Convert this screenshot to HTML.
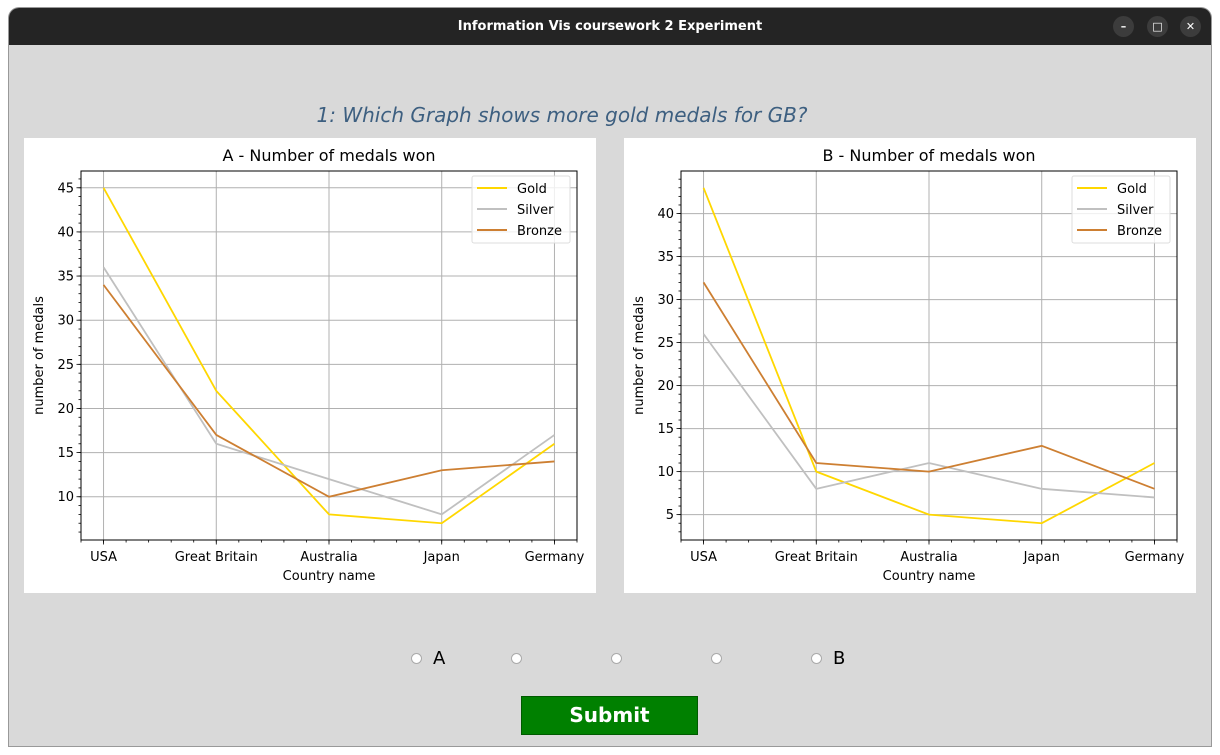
<!DOCTYPE html>
<html><head><meta charset="utf-8">
<style>
html,body{margin:0;padding:0;width:1220px;height:755px;overflow:hidden;background:#ffffff;font-family:"DejaVu Sans","Liberation Sans",sans-serif;}
#win{position:absolute;left:9px;top:8px;width:1202px;height:738px;background:#d9d9d9;border-radius:10px 10px 0 0;overflow:hidden;box-shadow:0 0 0 1px #999;}
#titlebar{position:absolute;left:0;top:0;width:1202px;height:37px;background:#242424;color:#fff;font-weight:bold;font-size:13px;text-align:center;line-height:37px;}
.wbtn{position:absolute;top:8px;width:21px;height:21px;border-radius:50%;background:#3c3c3c;color:#fff;font-size:11px;line-height:21px;text-align:center;}
#question{position:absolute;left:0;width:1106px;top:95px;text-align:center;color:#3d5f80;font-style:italic;font-size:20px;}
.panel{position:absolute;top:130px;width:572px;height:455px;background:#fff;}
.radio{position:absolute;top:645px;width:9px;height:9px;border-radius:50%;background:#fff;border:1px solid #aaa;}
.rlabel{position:absolute;top:640px;font-size:18px;color:#000;}
#submit{position:absolute;left:512px;top:688px;width:175px;height:37px;background:#008000;border:1px solid #005a00;color:#fff;font-weight:bold;font-size:20px;text-align:center;line-height:37px;}
</style></head>
<body>
<div id="win">
  <div id="titlebar">Information Vis coursework 2 Experiment
    <div class="wbtn" style="left:1104px">–</div>
    <div class="wbtn" style="left:1138px">□</div>
    <div class="wbtn" style="left:1171px">✕</div>
  </div>
  <div id="question">1: Which Graph shows more gold medals for GB?</div>
  <div class="panel" style="left:15px"><svg id="chartA" width="572" height="455"></svg></div>
  <div class="panel" style="left:615px"><svg id="chartB" width="572" height="455"></svg></div>
  <div class="radio" style="left:402px"></div>
  <div class="rlabel" style="left:424px">A</div>
  <div class="radio" style="left:502px"></div>
  <div class="radio" style="left:602px"></div>
  <div class="radio" style="left:702px"></div>
  <div class="radio" style="left:802px"></div>
  <div class="rlabel" style="left:824px">B</div>
  <div id="submit">Submit</div>
</div>
<script>
const categories = ["USA","Great Britain","Australia","Japan","Germany"];
const goldA = [45,22,8,7,16];
const silverA = [36,16,12,8,17];
const bronzeA = [34,17,10,13,14];
const goldB = [43,10,5,4,11];
const silverB = [26,8,11,8,7];
const bronzeB = [32,11,10,13,8];
const ticksA = [10,15,20,25,30,35,40,45];
const ticksB = [5,10,15,20,25,30,35,40];
const seriesNames = ["Gold","Silver","Bronze"];
const colors = ["#ffd700","#c0c0c0","#cd7f32"];
const NS="http://www.w3.org/2000/svg";
function mk(svg,tag,attrs,text){const e=document.createElementNS(NS,tag);for(const k in attrs)e.setAttribute(k,attrs[k]);if(text!==undefined)e.textContent=text;svg.appendChild(e);return e;}
function draw(id,title,series,ticks,letter){
  const svg=document.getElementById(id);
  const L=57,R=553,T=33,B=402;
  let all=[].concat(...series);let mn=Math.min(...all),mx=Math.max(...all);let m=(mx-mn)*0.05;
  const y0=mn-m,y1=mx+m;
  const x=i=>L+(i+0.2)/4.4*(R-L);
  const y=v=>B-(v-y0)/(y1-y0)*(B-T);
  const t=mk(svg,'text',{x:(L+R)/2,y:23,'text-anchor':'middle','font-size':'16','fill':'#000'},title);
  
  ticks.forEach(v=>{const g=mk(svg,'line',{x1:L,x2:R,y1:y(v),y2:y(v),stroke:'#b0b0b0','stroke-width':1});});
  categories.forEach((c,i)=>{const g=mk(svg,'line',{x1:x(i),x2:x(i),y1:T,y2:B,stroke:'#b0b0b0','stroke-width':1});});
  for(let v=Math.ceil(y0);v<=y1;v++){mk(svg,'line',{x1:L-2.5,x2:L,y1:y(v),y2:y(v),stroke:'#000','stroke-width':0.8});}
  for(let k=-1;k<=21;k++){const xv=k*0.2;if(xv<-0.2001||xv>4.2001)continue;const px=L+(xv+0.2)/4.4*(R-L);mk(svg,'line',{x1:px,x2:px,y1:B,y2:B+2.5,stroke:'#000','stroke-width':0.8});}
  ticks.forEach(v=>{mk(svg,'line',{x1:L-4.5,x2:L,y1:y(v),y2:y(v),stroke:'#000','stroke-width':0.8});
    const tl=mk(svg,'text',{x:L-7,y:y(v)+4.5,'text-anchor':'end','font-size':'13',fill:'#000'},String(v));});
  categories.forEach((c,i)=>{mk(svg,'line',{x1:x(i),x2:x(i),y1:B,y2:B+4.5,stroke:'#000','stroke-width':0.8});
    const tl=mk(svg,'text',{x:x(i),y:B+21,'text-anchor':'middle','font-size':'13',fill:'#000'},c);});
  const xt=mk(svg,'text',{x:(L+R)/2,y:B+40,'text-anchor':'middle','font-size':'13',fill:'#000'},'Country name');
  
  const yt=mk(svg,'text',{x:0,y:0,'text-anchor':'middle','font-size':'13',fill:'#000',transform:`translate(19,${(T+B)/2}) rotate(-90)`},'number of medals');
  
  series.forEach((s,si)=>{const p=mk(svg,'polyline',{points:s.map((v,i)=>x(i)+','+y(v)).join(' '),fill:'none',stroke:colors[si],'stroke-width':1.8});
    });
  mk(svg,'rect',{x:L,y:T,width:R-L,height:B-T,fill:'none',stroke:'#000','stroke-width':1});
  const lg=mk(svg,'rect',{x:448,y:38,width:98,height:67,fill:'#fff','fill-opacity':0.8,stroke:'#ddd',rx:2});
  
  seriesNames.forEach((n,i)=>{const ly=50+i*21;mk(svg,'line',{x1:453,x2:483,y1:ly,y2:ly,stroke:colors[i],'stroke-width':2});
    const lt=mk(svg,'text',{x:493,y:ly+5,'font-size':'13',fill:'#000'},n);});
}
draw('chartA','A - Number of medals won',[goldA,silverA,bronzeA],ticksA,'a');
draw('chartB','B - Number of medals won',[goldB,silverB,bronzeB],ticksB,'b');
</script>
</body></html>
